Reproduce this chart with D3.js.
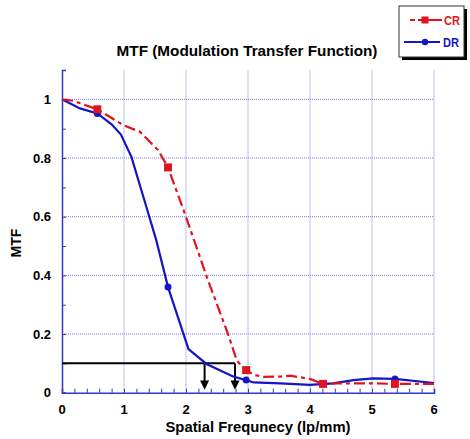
<!DOCTYPE html>
<html>
<head>
<meta charset="utf-8">
<script src="https://cdn.jsdelivr.net/npm/d3@7"></script>
<style>
  body{margin:0;background:#fff;}
  svg{display:block;font-family:"Liberation Sans",Arial,sans-serif;}
</style>
</head>
<body>
<svg id="chart" width="470" height="439"></svg>
<script>
// series
const cr_x=[0,0.18,0.57,0.99,1.26,1.55,1.71,1.98,2.36,2.66,2.82,2.97,3.09,3.25,3.52,3.68,4.0,4.21,4.43,4.97,5.37,6.0];
const cr_y=[1,0.995,0.966,0.912,0.889,0.827,0.768,0.611,0.38,0.211,0.109,0.077,0.061,0.054,0.055,0.058,0.047,0.030,0.032,0.032,0.030,0.030];
const dr_x=[0,0.29,0.57,0.8,0.95,1.12,1.36,1.52,1.71,2.04,2.33,2.76,2.97,3.09,3.52,4.0,4.37,4.70,5.02,5.37,6.0];
const dr_y=[1,0.969,0.952,0.915,0.88,0.804,0.634,0.520,0.360,0.149,0.098,0.055,0.043,0.035,0.032,0.027,0.032,0.043,0.049,0.047,0.033];
const cr_marker_x=[0.57,1.71,2.97,4.21,5.37];
const dr_marker_x=[0.57,1.71,2.97,5.37];
const threshold=0.1;
const arrow_x=[2.3,2.79];
const x_ticks=[0,1,2,3,4,5,6];
const y_ticks=[0,0.2,0.4,0.6,0.8,1];
const title="MTF (Modulation Transfer Function)";
const x_label="Spatial Frequnecy (lp/mm)";
const y_label="MTF";

const svg=d3.select("#chart");
const x=d3.scaleLinear().domain([0,6]).range([62,434]);
const y=d3.scaleLinear().domain([0,1.1]).range([392.7,70]);

const grid_color="#7b7bee";
const axis_color="#3535c8";
const red="#e0141e";
const blue="#1414c8";

// grid (dotted)
for(const t of x_ticks.slice(1)){
    svg.append("line")
        .attr("x1",x(t)).attr("x2",x(t))
        .attr("y1",y(0)).attr("y2",y(1.1))
        .attr("stroke",grid_color).attr("stroke-width",1)
        .attr("stroke-dasharray","1,1");
}
for(const t of y_ticks.slice(1)){
    svg.append("line")
        .attr("x1",x(0)).attr("x2",x(6))
        .attr("y1",y(t)).attr("y2",y(t))
        .attr("stroke",grid_color).attr("stroke-width",1)
        .attr("stroke-dasharray","1,1");
}

// axes
const x_axis=svg.append("g")
    .attr("transform","translate(0,"+y(0)+")")
    .call(d3.axisBottom(x).tickValues(d3.range(0,6.01,0.2)).tickSize(-4).tickFormat(""));
const y_axis=svg.append("g")
    .attr("transform","translate("+x(0)+",0)")
    .call(d3.axisLeft(y).tickValues(d3.range(0,1.11,0.1)).tickSize(-4).tickFormat(""));
for(const g of [x_axis,y_axis]){
    g.select(".domain").attr("stroke",axis_color).attr("stroke-width",1.5);
    g.selectAll(".tick line").attr("stroke",axis_color).attr("stroke-width",1);
}

// tick labels
svg.append("g").selectAll("text").data(x_ticks).join("text")
    .attr("x",d=>x(d)).attr("y",414)
    .attr("text-anchor","middle")
    .attr("font-size",13).attr("font-weight","bold")
    .text(d=>d);
svg.append("g").selectAll("text").data(y_ticks).join("text")
    .attr("x",51).attr("y",d=>y(d)+4.5)
    .attr("text-anchor","end")
    .attr("font-size",13).attr("font-weight","bold")
    .text(d=>d);

// titles
svg.append("text")
    .attr("x",247).attr("y",56)
    .attr("text-anchor","middle")
    .attr("font-size",15.3).attr("font-weight","bold")
    .text(title);
svg.append("text")
    .attr("x",258).attr("y",432)
    .attr("text-anchor","middle")
    .attr("font-size",14.8).attr("font-weight","bold")
    .text(x_label);
svg.append("text")
    .attr("transform","translate(21,243) rotate(-90)")
    .attr("text-anchor","middle")
    .attr("font-size",14).attr("font-weight","bold")
    .text(y_label);

// threshold lines + arrows
const ref=svg.append("g");
ref.append("line")
    .attr("x1",x(0)).attr("x2",x(d3.max(arrow_x)))
    .attr("y1",y(threshold)).attr("y2",y(threshold))
    .attr("stroke","black").attr("stroke-width",2);
for(const a of arrow_x){
    ref.append("line")
        .attr("x1",x(a)).attr("x2",x(a))
        .attr("y1",y(threshold)).attr("y2",y(0.035))
        .attr("stroke","black").attr("stroke-width",2);
    ref.append("path")
        .attr("d","M"+(x(a)-4.5)+","+y(0.042)+"L"+(x(a)+4.5)+","+y(0.042)+"L"+x(a)+","+y(0.01)+"Z")
        .attr("fill","black");
}

// series
const line=d3.line().x(d=>x(d[0])).y(d=>y(d[1]));
const cr=d3.zip(cr_x,cr_y);
const dr=d3.zip(dr_x,dr_y);
const val=(xs,ys,v)=>ys[xs.indexOf(v)];

svg.append("path").datum(dr)
    .attr("d",line).attr("fill","none")
    .attr("stroke",blue).attr("stroke-width",2.2);
svg.append("path").datum(cr)
    .attr("d",line).attr("fill","none")
    .attr("stroke",red).attr("stroke-width",2.2)
    .attr("stroke-dasharray","11,4,4,4");

svg.append("g").selectAll("circle").data(dr_marker_x).join("circle")
    .attr("cx",d=>x(d)).attr("cy",d=>y(val(dr_x,dr_y,d)))
    .attr("r",3.5).attr("fill",blue);
svg.append("g").selectAll("rect").data(cr_marker_x).join("rect")
    .attr("x",d=>x(d)-4).attr("y",d=>y(val(cr_x,cr_y,d))-4)
    .attr("width",8).attr("height",8).attr("fill",red);

// legend
const legend=svg.append("g");
legend.append("rect")
    .attr("x",402).attr("y",9).attr("width",65).attr("height",51)
    .attr("fill","black");
legend.append("rect")
    .attr("x",399).attr("y",6).attr("width",65).attr("height",51)
    .attr("fill","white").attr("stroke","#333").attr("stroke-width",1);
legend.append("line")
    .attr("x1",410).attr("x2",442).attr("y1",20).attr("y2",20)
    .attr("stroke",red).attr("stroke-width",2.2)
    .attr("stroke-dasharray","5,3,30");
legend.append("rect")
    .attr("x",421.5).attr("y",16.5).attr("width",7).attr("height",7).attr("fill",red);
legend.append("text")
    .attr("x",444).attr("y",24.5).attr("font-size",12).attr("font-weight","bold")
    .attr("textLength",16).attr("lengthAdjust","spacingAndGlyphs")
    .attr("fill",red).text("CR");
legend.append("line")
    .attr("x1",404).attr("x2",440).attr("y1",42).attr("y2",42)
    .attr("stroke",blue).attr("stroke-width",2.2);
legend.append("circle")
    .attr("cx",425).attr("cy",42).attr("r",3.2).attr("fill",blue);
legend.append("text")
    .attr("x",443).attr("y",46.5).attr("font-size",12).attr("font-weight","bold")
    .attr("textLength",16).attr("lengthAdjust","spacingAndGlyphs")
    .attr("fill",blue).text("DR");
</script>
</body>
</html>
